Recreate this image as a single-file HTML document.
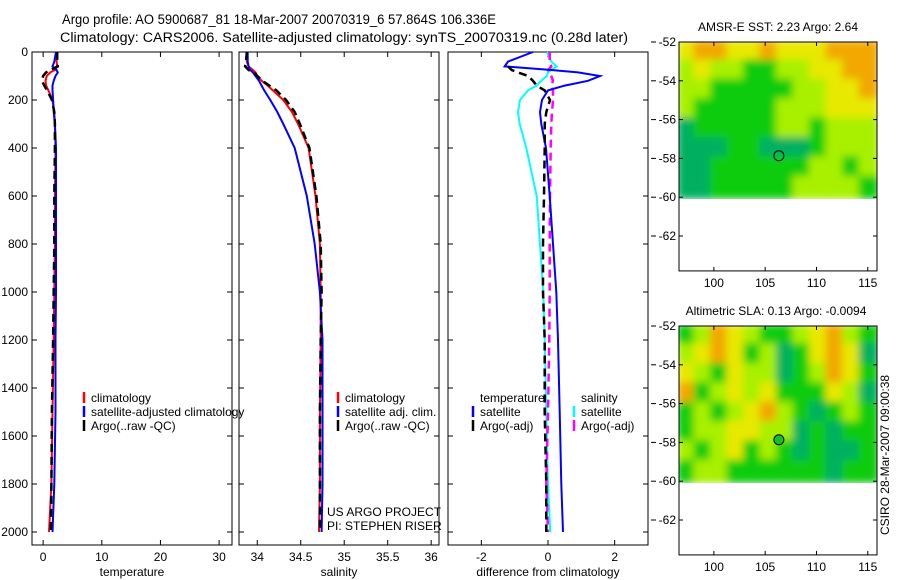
<!DOCTYPE html>
<html><head><meta charset="utf-8"><style>
html,body{margin:0;padding:0;background:#fff;}
svg{display:block;font-family:"Liberation Sans",sans-serif;}
</style></head><body>
<svg id="fig" width="900" height="580" viewBox="0 0 900 580">
<defs>
<filter id="blur" x="-5%" y="-5%" width="110%" height="110%"><feGaussianBlur stdDeviation="4"/></filter>
<clipPath id="clip1"><rect x="679" y="42" width="198" height="157"/></clipPath>
<clipPath id="clip2"><rect x="679" y="326" width="198" height="157"/></clipPath>
</defs>
<text x="62" y="24" font-size="13.5" textLength="434" lengthAdjust="spacingAndGlyphs">Argo profile: AO 5900687_81 18-Mar-2007 20070319_6 57.864S 106.336E</text>
<text x="60" y="42" font-size="13.5" textLength="568" lengthAdjust="spacingAndGlyphs">Climatology: CARS2006. Satellite-adjusted climatology: synTS_20070319.nc (0.28d later)</text>
<text x="778" y="31" font-size="12" text-anchor="middle">AMSR-E SST: 2.23 Argo: 2.64</text>
<text x="776" y="315" font-size="12" text-anchor="middle">Altimetric SLA: 0.13 Argo: -0.0094</text>
<text transform="translate(889,455) rotate(-90)" font-size="12" text-anchor="middle">CSIRO 28-Mar-2007 09:00:38</text>
<g id="layer"></g>
</svg>
<script>
// ---- profile data ----
const depth = [0,40,60,75,85,100,120,140,160,200,250,300,400,600,800,1000,1200,1500,1800,2000];
const tempClim = [2.3,2.3,2.4,2.0,1.2,0.6,0.4,0.5,0.9,1.6,1.9,2.0,2.1,2.0,2.0,1.9,1.8,1.6,1.4,1.0];
const tempArgo = [2.4,2.4,2.5,1.2,0.5,0.0,-0.2,0.2,0.7,1.5,1.9,2.0,2.0,1.9,1.9,1.8,1.7,1.5,1.4,1.3];
const tempSat = [2.2,1.9,1.6,2.3,2.5,2.1,1.8,1.6,1.6,1.7,1.8,2.0,2.2,2.2,2.2,2.2,2.1,2.1,1.9,1.6];
const salClim = [33.88,33.88,33.9,33.95,33.98,34.0,34.05,34.12,34.18,34.30,34.40,34.47,34.59,34.67,34.72,34.73,34.73,34.72,34.72,34.71];
const salArgo = [33.88,33.87,33.86,33.9,33.96,34.0,34.06,34.14,34.22,34.33,34.43,34.49,34.60,34.68,34.73,34.74,34.73,34.72,34.72,34.72];
const salSat = [33.89,33.89,33.9,33.92,33.95,33.98,34.02,34.05,34.08,34.15,34.23,34.30,34.43,34.57,34.66,34.72,34.75,34.75,34.75,34.74];
const diffTSat = [-0.45,-1.2,-1.3,0.1,0.9,1.56,1.2,0.5,0.0,-0.18,-0.24,-0.2,-0.06,0.05,0.15,0.25,0.3,0.35,0.4,0.45];
const diffSSat = [-0.03,0.1,0.26,0.1,0.0,-0.04,-0.2,-0.34,-0.6,-0.84,-0.9,-0.85,-0.65,-0.34,-0.24,-0.14,-0.1,-0.05,0.0,0.07];
const diffTArgo = [null,null,-1.2,-1.09,-0.9,-0.6,-0.45,-0.34,-0.1,0.06,-0.05,-0.1,-0.1,-0.12,-0.15,-0.15,-0.1,-0.1,-0.05,-0.05];
const diffSArgo = [0.05,0.05,0.1,0.0,0.05,0.1,0.15,0.1,0.15,0.15,0.12,0.1,0.08,0.06,0.05,0.05,0.04,0.0,-0.05,0.0];
const depthTicks = [0,200,400,600,800,1000,1200,1400,1600,1800,2000];
const tempTicks = [0,10,20,30];
const salTicks = [34,34.5,35,35.5,36];
const diffTicks = [-2,0,2];
const lonTicks = [100,105,110,115];
const latTicks = [-52,-54,-56,-58,-60,-62];
const argoLon = 106.336, argoLat = -57.864;
const sstGrid = ["YOOYYOYYYOOO","LYLLGGLLYYOO","LLGGGGGLLYYO","LGGGGGLLLYYY","TGGGGGLLGLLL","TTTGGTTTGLLL","TTGGGGGGLLGL","TTGGGGGLLLLG"];
const slaGrid = ["GLOYLGGLYOLG","LYOYGLTGYOYT","YLGYLLTGLOYG","OGLYLYGGGYLT","GLGLYOLGTGLG","GLLYYLLTGTGG","LGLYGLGTGTTG","GLLGGGGGGTGG"];
const palette = {O:"#f2a800",Y:"#e8e800",L:"#a8f000",G:"#10cc10",T:"#00b060"};

const NS="http://www.w3.org/2000/svg";
const layer=document.getElementById('layer');
function mk(tag,attrs,parent){const e=document.createElementNS(NS,tag);for(const k in attrs)e.setAttribute(k,attrs[k]);(parent||layer).appendChild(e);return e;}

const yTop=52, yPerM=0.24;
function yD(d){return yTop+d*yPerM;}
const panels=[
 {x0:32,x1:232,v0:-1.9,v1:32.2,ticks:tempTicks,label:"temperature",name:"temperature"},
 {x0:239,x1:439,v0:33.79,v1:36.09,ticks:salTicks,label:"salinity",name:"salinity"},
 {x0:448,x1:648,v0:-3,v1:3,ticks:diffTicks,label:"difference from climatology",name:"difference"}
];
function xf(p,v){return p.x0+(v-p.v0)/(p.v1-p.v0)*(p.x1-p.x0);}
const yBot=545;

panels.forEach((p,i)=>{
  const g=mk('g',{});
  
  
  const r=mk('rect',{x:p.x0,y:yTop,width:p.x1-p.x0,height:yBot-yTop,fill:'none',stroke:'#000','stroke-width':1},g);
  
  
  depthTicks.forEach(d=>{
    const y=yD(d);
    mk('line',{x1:p.x0,x2:p.x0+5,y1:y,y2:y,stroke:'#000'},g);
    mk('line',{x1:p.x1-5,x2:p.x1,y1:y,y2:y,stroke:'#000'},g);
    if(i===0){const t=mk('text',{x:p.x0-4,y:y+4,'font-size':12,'text-anchor':'end'},g);t.textContent=d;
      
      }
  });
  p.ticks.forEach(v=>{
    const x=xf(p,v);
    mk('line',{x1:x,x2:x,y1:yBot,y2:yBot-5,stroke:'#000'},g);
    mk('line',{x1:x,x2:x,y1:yTop,y2:yTop+5,stroke:'#000'},g);
    const t=mk('text',{x:x,y:yBot+16,'font-size':12,'text-anchor':'middle'},g);t.textContent=v;
    
    
  });
  const xl=mk('text',{x:(p.x0+p.x1)/2,y:576,'font-size':12,'text-anchor':'middle'},g);xl.textContent=p.label;
  
  
});

function line(p,vals,color,dash,w,name){
  let d='';let pen=false;
  vals.forEach((v,k)=>{ if(v===null){pen=false;return;} d+=(pen?'L':'M')+xf(p,v).toFixed(1)+','+yD(depth[k]).toFixed(1);pen=true;});
  const e=mk('path',{d:d,fill:'none',stroke:color,'stroke-width':w});
  if(dash)e.setAttribute('stroke-dasharray',dash);
  
  
}
line(panels[0],tempClim,'#ff0000',null,2,'temp-climatology-line');
line(panels[0],tempSat,'#0000ff',null,2,'temp-satellite-line');
line(panels[0],tempArgo,'#000',"8,5",2.5,'temp-argo-line');
line(panels[1],salClim,'#ff0000',null,2,'sal-climatology-line');
line(panels[1],salSat,'#0000ff',null,2,'sal-satellite-line');
line(panels[1],salArgo,'#000',"8,5",2.5,'sal-argo-line');
line(panels[2],diffSSat,'#00ffff',null,2,'diff-sal-satellite-line');
line(panels[2],diffSArgo,'#ff00ff',"8,5",2.5,'diff-sal-argo-line');
line(panels[2],diffTSat,'#0000ff',null,2,'diff-temp-satellite-line');
line(panels[2],diffTArgo,'#000',"8,5",2.5,'diff-temp-argo-line');

function legend(x,y,items,name){
  items.forEach((it,k)=>{
    const yy=y+k*14;
    if(it[0]){const m=mk('line',{x1:x,x2:x,y1:yy-10,y2:yy+1,stroke:it[0],'stroke-width':2.5});
      
      }
    const t=mk('text',{x:x+7,y:yy,'font-size':12});t.textContent=it[1];
    
    
  });
}
legend(84,402,[['#ff0000','climatology'],['#0000ff','satellite-adjusted climatology'],['#000','Argo(..raw -QC)']],'temp-legend');
legend(338,402,[['#ff0000','climatology'],['#0000ff','satellite adj. clim.'],['#000','Argo(..raw -QC)']],'sal-legend');
legend(473,402,[[null,'temperature'],['#0000ff','satellite'],['#000','Argo(-adj)']],'diff-temp-legend');
legend(574,402,[[null,'salinity'],['#00ffff','satellite'],['#ff00ff','Argo(-adj)']],'diff-sal-legend');
const pr=mk('text',{x:327,y:516,'font-size':12});pr.textContent='US ARGO PROJECT';


const pi=mk('text',{x:327,y:530,'font-size':12});pi.textContent='PI: STEPHEN RISER';



// maps
function map(top,grid,clip,name,filled){
  const x0=679,x1=877,lon0=96.6,lon1=115.9,degY=19.4;
  const lx=v=>x0+(v-lon0)/(lon1-lon0)*(x1-x0);
  const ly=v=>top+(-52-v)*degY;
  const g=mk('g',{'clip-path':'url(#'+clip+')'});
  
  
  const inner=mk('g',{filter:'url(#blur)'},g);
  const cw=(x1-x0)/12, ch=(ly(-60)-top)/8;
  grid.forEach((row,r)=>{for(let c=0;c<12;c++){
    mk('rect',{x:x0+c*cw-2,y:top+r*ch-2,width:cw+4,height:ch+4,fill:palette[row[c]]},inner);
  }});
  const box=mk('rect',{x:x0,y:top,width:x1-x0,height:ly(-63.8)-top,fill:'none',stroke:'#000'});
  
  
  latTicks.forEach(v=>{const y=ly(v);
    mk('line',{x1:x0,x2:x0+4,y1:y,y2:y,stroke:'#000'});
    mk('line',{x1:x1-4,x2:x1,y1:y,y2:y,stroke:'#000'});
    mk('line',{x1:651,x2:656,y1:y,y2:y,stroke:'#000'});
    const t=mk('text',{x:x0-3,y:y+4,'font-size':12,'text-anchor':'end'});t.textContent=v;
    
    
  });
  lonTicks.forEach(v=>{const x=lx(v),yb=ly(-63.8);
    mk('line',{x1:x,x2:x,y1:yb,y2:yb-4,stroke:'#000'});
    mk('line',{x1:x,x2:x,y1:top,y2:top+4,stroke:'#000'});
    const t=mk('text',{x:x,y:yb+16,'font-size':12,'text-anchor':'middle'});t.textContent=v;
    
    
  });
  const c=mk('circle',{cx:lx(argoLon),cy:ly(argoLat),r:5,fill:filled?'#10c030':'none',stroke:'#000'});
  
  
}
map(42,sstGrid,'clip1','sst-map',false);
map(326,slaGrid,'clip2','sla-map',true);
</script>
</body></html>
